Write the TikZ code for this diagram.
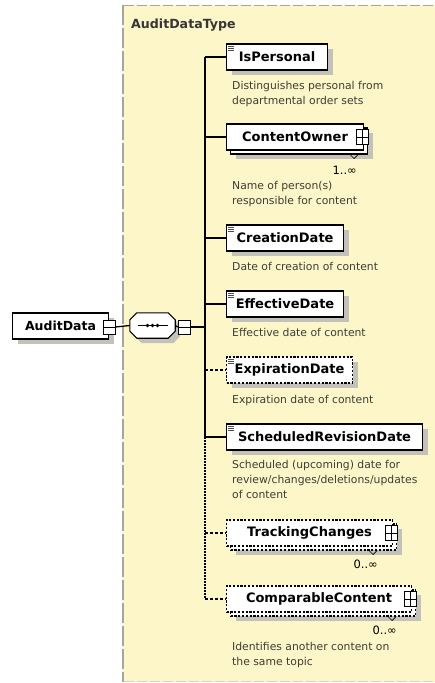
\documentclass[tikz,border=0pt]{standalone}
\usepackage{fontspec}
\setmainfont{DejaVu Sans}
\usetikzlibrary{shadows,calc}

\definecolor{panel}{HTML}{FCF6C8}
\definecolor{panelborder}{HTML}{A6A69E}
\definecolor{shade}{HTML}{C2C2BA}
\definecolor{desc}{HTML}{3E3E36}
\definecolor{titlegray}{HTML}{363636}

\tikzset{
  elbase/.style={draw=black, line width=1.1pt, fill=white, anchor=west,
    inner xsep=0pt, inner ysep=0pt, minimum height=26pt,
    font=\bfseries\fontsize{13}{15}\selectfont},
  single/.style={elbase,
    drop shadow={shadow xshift=5pt, shadow yshift=-5pt, fill=shade, opacity=1}},
  optsingle/.style={single, dash pattern=on 2.2pt off 1.6pt},
  multi/.style={elbase,
    drop shadow={shadow xshift=9pt, shadow yshift=-9pt, fill=shade, opacity=1},
    copy shadow={shadow xshift=4pt, shadow yshift=-4pt, fill=white, draw=black, line width=1.1pt}},
  optmulti/.style={elbase, dash pattern=on 2.2pt off 1.6pt,
    drop shadow={shadow xshift=9pt, shadow yshift=-9pt, fill=shade, opacity=1},
    copy shadow={shadow xshift=4pt, shadow yshift=-4pt, fill=white, draw=black,
      line width=1.1pt, dash pattern=on 2.2pt off 1.6pt}},
  plusbox/.style={draw=black, fill=white, line width=0.8pt, inner sep=0pt,
    minimum width=12pt, minimum height=15pt,
    path picture={
      \draw[line width=0.8pt] (path picture bounding box.north) -- (path picture bounding box.south);
      \draw[line width=0.8pt] (path picture bounding box.west) -- (path picture bounding box.east);}},
  minusbox/.style={draw=black, fill=white, line width=0.8pt, inner sep=0pt,
    minimum width=12pt, minimum height=14pt,
    path picture={
      \draw[line width=0.8pt] (path picture bounding box.west) -- (path picture bounding box.east);}},
  seqarea/.style={inner sep=0pt, minimum width=45pt, minimum height=25pt},
  seqoutline/.style={draw=black, line width=1.1pt, fill=white,
    drop shadow={shadow xshift=5pt, shadow yshift=-5pt, fill=shade, opacity=1}},
  desctext/.style={anchor=north west, inner sep=0pt, align=left, text=desc,
    font=\fontsize{10.8}{15}\selectfont},
  mult/.style={anchor=east, inner sep=0pt, font=\fontsize{11.5}{13}\selectfont},
  conn/.style={draw=black, line width=1.3pt},
  optconn/.style={conn, dash pattern=on 3pt off 2pt},
  icon/.style={draw=black!70, line width=0.7pt},
  notch/.style={draw=black, line width=0.6pt}
}

\begin{document}
\begin{tikzpicture}[x=1pt, y=-1pt]
\useasboundingbox (0,0) rectangle (435,683);
\fill[white] (0,0) rectangle (435,683);

% type panel
\fill[panel] (122,5) rectangle (436,682);
\draw[panelborder, line width=1.4pt, dash pattern=on 10pt off 3pt] (124,5.5) -- (436,5.5);
\draw[panelborder, line width=1.4pt, dash pattern=on 20pt off 3pt] (123,5) -- (123,682);
\draw[panelborder!50, line width=1pt, dash pattern=on 10pt off 3pt] (124,681.5) -- (436,681.5);
\node[anchor=west, inner sep=0pt, text=titlegray, font=\bfseries\fontsize{12.6}{14}\selectfont] (title) at (131,25) {AuditDataType};

% root element and sequence compositor
\node[single, minimum width=96pt, font=\bfseries\fontsize{12.5}{15}\selectfont] (ad) at (12,326) {AuditData\hspace{8pt}};
\node[minusbox] (adm) at (109,327) {};
\node[seqarea] (seq) at (152.5,325.5) {};
\path[seqoutline]
  ([xshift=7pt]seq.north west) -- ([xshift=-7pt]seq.north east)
  -- ([yshift=-7pt]seq.north east) -- ([yshift=7pt]seq.south east)
  -- ([xshift=-7pt]seq.south east) -- ([xshift=7pt]seq.south west)
  -- ([yshift=7pt]seq.south west) -- ([yshift=-7pt]seq.north west) -- cycle;
\draw[line width=1pt] ([xshift=-15pt]seq.center) -- ([xshift=15pt]seq.center);
\fill ([xshift=-5pt]seq.center) circle (1.8pt);
\fill (seq.center) circle (1.8pt);
\fill ([xshift=5pt]seq.center) circle (1.8pt);
\node[minusbox] (seqm) at (184,327) {};
\coordinate (bus) at (205,327);

% child elements
\node[single, minimum width=101pt] (ip) at (226,57) {IsPersonal};
\node[multi, minimum width=137pt] (co) at (226,137) {ContentOwner\hspace{14pt}};
\node[single, minimum width=117pt] (cd) at (226,238) {CreationDate};
\node[single, minimum width=117pt] (ed) at (226,304) {EffectiveDate};
\node[optsingle, minimum width=126pt] (xd) at (226,370) {ExpirationDate};
\node[single, minimum width=196pt] (srd) at (226,437) {ScheduledRevisionDate};
\node[optmulti, minimum width=166pt] (tc) at (226,533) {TrackingChanges\hspace{14pt}};
\node[optmulti, minimum width=185pt] (cc) at (226,599) {ComparableContent\hspace{14pt}};

% expand boxes of complex children
\node[plusbox] (cop) at ([xshift=-1.5pt]co.east) {};
\node[plusbox] (tcp) at ([xshift=-1.5pt]tc.east) {};
\node[plusbox] (ccp) at ([xshift=-1.5pt]cc.east) {};

% simple-content markers
\foreach \e in {ip,cd,ed,xd,srd}{
  \draw[icon] ([shift={(2,2.5)}]\e.north west) -- ++(6,0);
  \draw[icon] ([shift={(2,4.5)}]\e.north west) -- ++(6,0);
  \draw[icon] ([shift={(2,6.5)}]\e.north west) -- ++(6,0);
}

% occurrence notches
\draw[notch] ([shift={(-14,4)}]co.south east) -- ([shift={(-10,8)}]co.south east) -- ([shift={(-6,4)}]co.south east);
\draw[notch] ([shift={(-24,4)}]tc.south east) -- ([shift={(-20,8)}]tc.south east) -- ([shift={(-16,4)}]tc.south east);
\draw[notch] ([shift={(-24,4)}]cc.south east) -- ([shift={(-20,8)}]cc.south east) -- ([shift={(-16,4)}]cc.south east);

% occurrence ranges
\node[mult] (com) at (357,170) {1..∞};
\node[mult] (tcm) at (378,564) {0..∞};
\node[mult] (ccm) at (397,630) {0..∞};

% connectors
\draw[conn] (adm.east) -- (seq.west);
\draw[conn] (seq.east) -- (seqm.west);
\draw[conn] (seqm.east) -- (bus);
\draw[conn] (bus |- ip.west) -- (bus |- srd.west);
\draw[conn, dash pattern=on 1.5pt off 1.5pt] (bus |- srd.west) -- (bus |- cc.west);
\draw[conn] (bus |- ip.west) -- (ip.west);
\draw[conn] (bus |- co.west) -- (co.west);
\draw[conn] (bus |- cd.west) -- (cd.west);
\draw[conn] (bus |- ed.west) -- (ed.west);
\draw[optconn] (bus |- xd.west) -- (xd.west);
\draw[conn] (bus |- srd.west) -- (srd.west);
\draw[optconn] (bus |- tc.west) -- (tc.west);
\draw[optconn] (bus |- cc.west) -- (cc.west);

% annotations
\node[desctext] (ipd) at (232,81.5) {Distinguishes personal from\\departmental order sets};
\node[desctext] (cod) at (232,181.5) {Name of person(s)\\responsible for content};
\node[desctext] (cdd) at (232,262.5) {Date of creation of content};
\node[desctext] (edd) at (232,328.5) {Effective date of content};
\node[desctext] (xdd) at (232,395.5) {Expiration date of content};
\node[desctext] (srdd) at (232,460.5) {Scheduled (upcoming) date for\\review/changes/deletions/updates\\of content};
\node[desctext] (ccd) at (232,642.5) {Identifies another content on\\the same topic};
\end{tikzpicture}
\end{document}
